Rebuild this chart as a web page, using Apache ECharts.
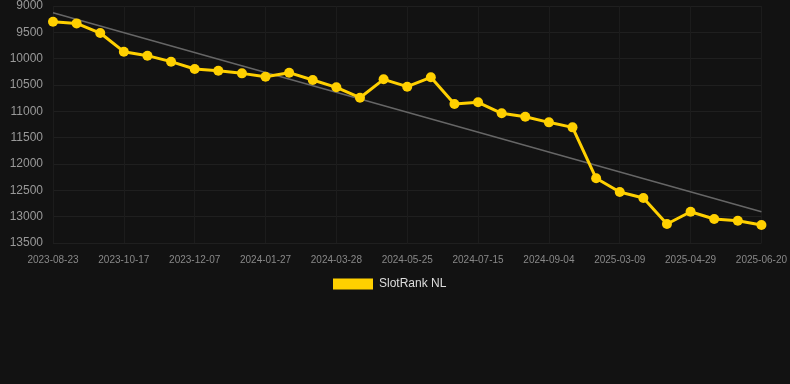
<!DOCTYPE html>
<html><head><meta charset="utf-8">
<script src="https://cdn.jsdelivr.net/npm/echarts@6/dist/echarts.min.js"></script>
<style>html,body{margin:0;padding:0;background:#121212;}#c{width:790px;height:384px;}</style>
</head><body><div id="c"></div>
<script>
const categories = ["2023-08-23","2023-09-10","2023-09-28","2023-10-17","2023-11-03","2023-11-20","2023-12-07","2023-12-24","2024-01-10","2024-01-27","2024-02-16","2024-03-07","2024-03-28","2024-04-17","2024-05-06","2024-05-25","2024-06-12","2024-06-28","2024-07-15","2024-08-01","2024-08-18","2024-09-04","2024-10-20","2025-01-20","2025-03-09","2025-03-26","2025-04-12","2025-04-29","2025-05-16","2025-06-03","2025-06-20"];
const rankValues = [9300,9330,9513,9867,9943,10057,10196,10228,10279,10342,10266,10405,10544,10741,10392,10532,10354,10861,10829,11038,11102,11209,11304,12272,12532,12646,13140,12906,13045,13077,13159];
const trendEnds = [9127, 12906];
const yTicks = {min: 9000, max: 13500, interval: 500};
const seriesName = "SlotRank NL";

const trendData = categories.map((c,i) => i === 0 ? trendEnds[0] : (i === categories.length-1 ? trendEnds[1] : null));

const chart = echarts.init(document.getElementById('c'), null, {renderer:'canvas'});
chart.setOption({
  backgroundColor: '#121212',
  animation: false,
  grid: {left: 53, right: 28, top: 6, bottom: 141, containLabel: false},
  legend: {
    top: 278, left: 333,
    data: [{name: seriesName, icon: 'rect'}],
    itemWidth: 40, itemHeight: 11, itemGap: 6,
    textStyle: {color: '#dddddd', fontSize: 12, fontFamily: 'Liberation Sans, Arial, sans-serif', padding: [0,0,0,1]},
    padding: 0
  },
  xAxis: {
    type: 'category', data: categories, boundaryGap: false,
    axisLine: {show: false}, axisTick: {show: false},
    axisLabel: {interval: 2, color: '#888', fontSize: 10, margin: 12, fontFamily: 'Liberation Sans, Arial, sans-serif'},
    splitLine: {show: true, interval: 2, lineStyle: {color: '#1c1c1c', width: 1}}
  },
  yAxis: {
    type: 'value', inverse: true, min: yTicks.min, max: yTicks.max, interval: yTicks.interval,
    axisLine: {show: false}, axisTick: {show: false},
    axisLabel: {color: '#999', fontSize: 12, margin: 10, formatter: v => String(v), fontFamily: 'Liberation Sans, Arial, sans-serif'},
    splitLine: {show: true, lineStyle: {color: '#1f1f1f', width: 1}}
  },
  series: [
    {
      name: 'trend', type: 'line', data: trendData, connectNulls: true,
      symbol: 'none', lineStyle: {color: '#666', width: 1.5}, z: 1, silent: true
    },
    {
      name: seriesName, type: 'line', data: rankValues,
      symbol: 'circle', symbolSize: 10,
      itemStyle: {color: '#FFD000'},
      lineStyle: {color: '#FFD000', width: 3}, z: 2
    }
  ]
});
</script></body></html>
